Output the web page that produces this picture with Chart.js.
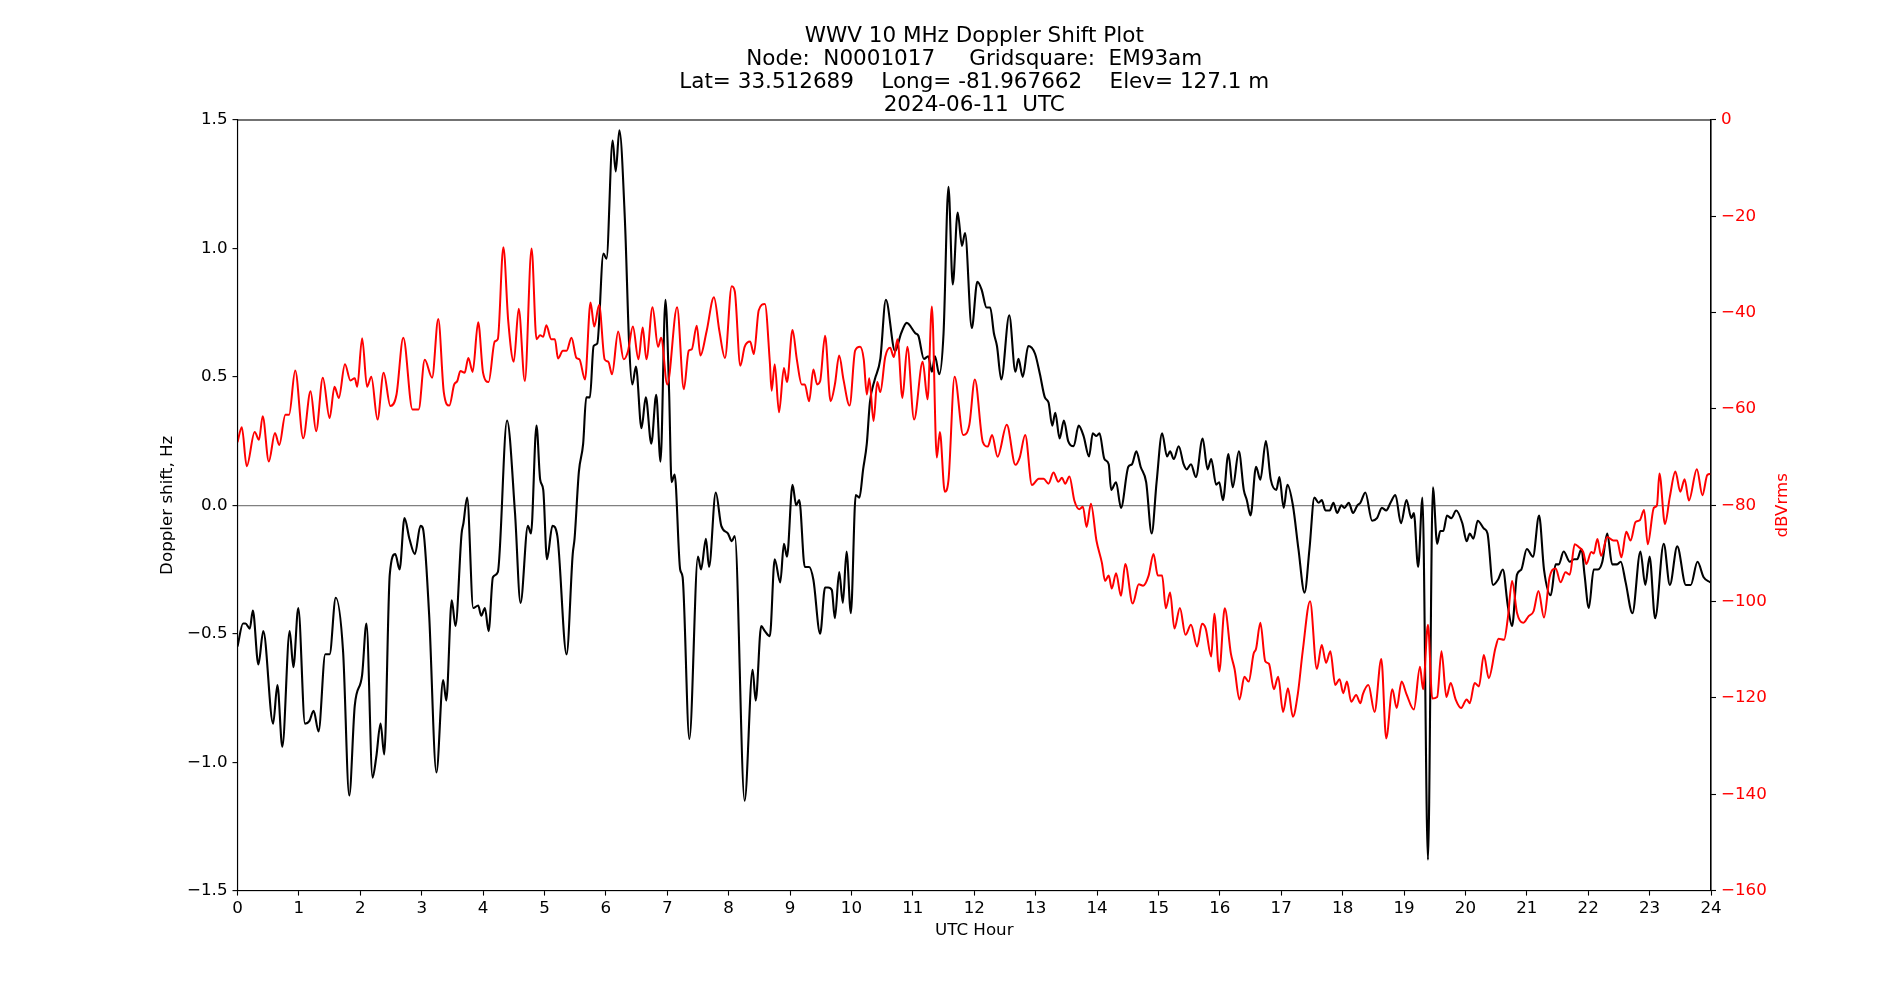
<!DOCTYPE html>
<html>
<head>
<meta charset="utf-8">
<script src="https://cdn.jsdelivr.net/npm/chart.js@4.4.1/dist/chart.umd.min.js"></script>
<style>
html,body{margin:0;padding:0;background:#ffffff;}
#wrap{width:1900px;height:1000px;}
</style>
</head>
<body>
<div id="wrap"><canvas id="c" width="1900" height="1000"></canvas></div>
<script>
const titleLines = [
  "WWV 10 MHz Doppler Shift Plot",
  "Node:  N0001017     Gridsquare:  EM93am",
  "Lat= 33.512689    Long= -81.967662    Elev= 127.1 m",
  "2024-06-11  UTC"
];
const xAxisLabel = "UTC Hour";
const dopplerAxisLabel = "Doppler shift, Hz";
const powerAxisLabel = "dBVrms";

const hourTicks = [0,1,2,3,4,5,6,7,8,9,10,11,12,13,14,15,16,17,18,19,20,21,22,23,24];
const dopplerTicks = [-1.5,-1.0,-0.5,0.0,0.5,1.0,1.5];
const powerTicks = [0,-20,-40,-60,-80,-100,-120,-140,-160];

// Doppler shift (Hz) vs UTC hour, black trace
const dopplerHours = [
  0.00,0.09,0.13,0.20,0.25,0.34,0.42,0.58,0.65,0.73,
  0.85,0.91,0.99,1.10,1.17,1.24,1.32,1.43,1.50,1.60,
  1.72,1.82,1.91,2.03,2.10,2.20,2.26,2.33,2.39,2.48,
  2.57,2.64,2.72,2.80,2.89,2.98,3.02,3.12,3.24,3.35,
  3.40,3.49,3.55,3.65,3.68,3.74,3.84,3.92,3.97,4.03,
  4.09,4.16,4.24,4.39,4.52,4.61,4.73,4.78,4.87,4.93,
  4.98,5.04,5.13,5.21,5.36,5.46,5.49,5.56,5.63,5.68,
  5.74,5.80,5.86,5.96,6.01,6.11,6.16,6.22,6.31,6.38,
  6.43,6.49,6.58,6.65,6.74,6.82,6.89,6.97,7.03,7.07,
  7.12,7.21,7.25,7.36,7.50,7.55,7.63,7.68,7.79,7.88,
  7.99,8.05,8.10,8.26,8.39,8.44,8.53,8.59,8.67,8.75,
  8.84,8.90,8.95,9.04,9.10,9.15,9.24,9.31,9.38,9.49,
  9.57,9.62,9.68,9.73,9.80,9.86,9.92,9.99,10.07,10.13,
  10.19,10.25,10.30,10.38,10.47,10.56,10.71,10.81,10.90,11.04,
  11.09,11.18,11.25,11.31,11.36,11.43,11.50,11.58,11.65,11.73,
  11.80,11.85,11.96,12.05,12.12,12.20,12.26,12.32,12.37,12.44,
  12.57,12.67,12.72,12.79,12.88,12.99,13.07,13.15,13.21,13.27,
  13.32,13.39,13.46,13.53,13.62,13.70,13.78,13.87,13.93,13.99,
  14.04,14.12,14.19,14.23,14.31,14.39,14.51,14.57,14.64,14.71,
  14.80,14.89,14.97,15.06,15.14,15.19,15.25,15.33,15.41,15.46,
  15.53,15.61,15.72,15.80,15.86,15.94,15.99,16.05,16.14,16.21,
  16.31,16.39,16.44,16.50,16.59,16.66,16.75,16.83,16.92,16.97,
  17.04,17.10,17.19,17.28,17.38,17.46,17.54,17.61,17.66,17.72,
  17.79,17.85,17.91,17.98,18.03,18.10,18.17,18.24,18.29,18.37,
  18.48,18.56,18.64,18.71,18.78,18.86,18.95,19.04,19.12,19.16,
  19.23,19.30,19.39,19.47,19.54,19.59,19.64,19.70,19.77,19.85,
  19.95,20.02,20.07,20.13,20.20,20.30,20.36,20.45,20.53,20.61,
  20.69,20.76,20.84,20.91,21.00,21.10,21.20,21.28,21.39,21.47,
  21.52,21.60,21.70,21.77,21.82,21.89,21.94,22.01,22.09,22.16,
  22.23,22.31,22.39,22.47,22.53,22.61,22.72,22.85,22.93,23.00,
  23.09,23.23,23.33,23.45,23.59,23.67,23.78,23.88,23.99
];
const dopplerHz = [
  -0.55,-0.46,-0.46,-0.48,-0.41,-0.62,-0.49,-0.85,-0.70,-0.94,
  -0.49,-0.63,-0.40,-0.85,-0.84,-0.80,-0.88,-0.58,-0.58,-0.36,
  -0.57,-1.13,-0.78,-0.66,-0.46,-1.06,-0.98,-0.85,-0.97,-0.27,
  -0.19,-0.25,-0.05,-0.13,-0.19,-0.08,-0.09,-0.42,-1.04,-0.68,
  -0.76,-0.37,-0.47,-0.11,-0.07,0.03,-0.40,-0.39,-0.43,-0.40,
  -0.49,-0.28,-0.26,0.33,-0.03,-0.38,-0.08,-0.11,0.31,0.10,
  0.06,-0.21,-0.08,-0.12,-0.58,-0.19,-0.13,0.13,0.24,0.42,
  0.42,0.62,0.63,0.98,0.96,1.42,1.30,1.46,1.11,0.62,
  0.47,0.54,0.30,0.42,0.24,0.43,0.17,0.80,0.44,0.09,
  0.12,-0.25,-0.28,-0.91,-0.20,-0.25,-0.13,-0.24,0.05,-0.08,
  -0.11,-0.14,-0.12,-1.15,-0.64,-0.76,-0.47,-0.49,-0.51,-0.21,
  -0.30,-0.15,-0.20,0.08,0.00,0.02,-0.24,-0.24,-0.29,-0.50,
  -0.32,-0.32,-0.33,-0.44,-0.26,-0.38,-0.18,-0.42,0.04,0.03,
  0.14,0.24,0.40,0.49,0.57,0.80,0.60,0.67,0.71,0.67,
  0.66,0.57,0.58,0.52,0.58,0.51,0.67,1.24,0.86,1.14,
  1.01,1.06,0.69,0.87,0.84,0.77,0.77,0.67,0.62,0.49,
  0.74,0.52,0.57,0.50,0.62,0.59,0.51,0.42,0.40,0.31,
  0.36,0.26,0.33,0.25,0.23,0.31,0.27,0.19,0.28,0.27,
  0.28,0.18,0.16,0.06,0.09,-0.01,0.15,0.16,0.21,0.15,
  0.09,-0.11,0.09,0.28,0.19,0.21,0.18,0.23,0.16,0.14,
  0.16,0.11,0.26,0.14,0.18,0.08,0.09,0.02,0.20,0.07,
  0.21,0.06,0.02,-0.04,0.15,0.10,0.25,0.10,0.06,0.11,
  -0.01,0.08,0.00,-0.17,-0.34,-0.17,0.03,0.01,0.02,-0.02,
  -0.02,0.01,-0.03,0.00,-0.01,0.01,-0.03,0.00,0.01,0.05,
  -0.06,-0.05,-0.01,-0.02,0.01,0.04,-0.07,0.02,-0.05,-0.03,
  -0.24,0.03,-1.38,0.07,-0.15,-0.10,-0.10,-0.04,-0.05,-0.02,
  -0.07,-0.14,-0.11,-0.13,-0.06,-0.09,-0.11,-0.31,-0.29,-0.25,
  -0.39,-0.47,-0.27,-0.25,-0.17,-0.20,-0.04,-0.25,-0.35,-0.23,
  -0.23,-0.18,-0.22,-0.21,-0.21,-0.17,-0.27,-0.40,-0.25,-0.25,
  -0.22,-0.11,-0.23,-0.23,-0.22,-0.30,-0.42,-0.18,-0.31,-0.20,
  -0.44,-0.15,-0.31,-0.16,-0.31,-0.31,-0.22,-0.28,-0.30
];

// Received level (dBVrms) vs UTC hour, red trace
const powerHours = [
  0.00,0.07,0.15,0.28,0.35,0.41,0.51,0.61,0.68,0.78,
  0.84,0.94,1.07,1.19,1.28,1.39,1.50,1.58,1.65,1.75,
  1.84,1.91,1.95,2.03,2.11,2.18,2.28,2.38,2.49,2.59,
  2.70,2.85,2.95,3.05,3.17,3.27,3.36,3.45,3.53,3.58,
  3.63,3.70,3.76,3.83,3.92,4.00,4.09,4.19,4.24,4.33,
  4.41,4.50,4.58,4.68,4.79,4.87,4.93,4.98,5.03,5.11,
  5.17,5.22,5.30,5.36,5.44,5.52,5.57,5.66,5.75,5.81,
  5.89,5.98,6.04,6.10,6.20,6.29,6.36,6.44,6.53,6.60,
  6.66,6.76,6.85,6.90,7.00,7.16,7.27,7.35,7.40,7.48,
  7.54,7.64,7.76,7.85,7.94,8.05,8.10,8.19,8.26,8.35,
  8.41,8.49,8.59,8.67,8.70,8.75,8.82,8.90,8.95,9.04,
  9.11,9.19,9.24,9.31,9.38,9.44,9.49,9.57,9.66,9.73,
  9.80,9.87,9.97,10.06,10.14,10.20,10.25,10.29,10.36,10.42,
  10.47,10.55,10.63,10.69,10.75,10.83,10.91,11.02,11.16,11.24,
  11.31,11.39,11.44,11.52,11.58,11.68,11.82,11.92,12.01,12.14,
  12.22,12.29,12.38,12.53,12.67,12.74,12.83,12.94,13.05,13.13,
  13.21,13.29,13.37,13.43,13.48,13.55,13.63,13.71,13.77,13.83,
  13.90,13.99,14.08,14.13,14.19,14.24,14.31,14.39,14.46,14.58,
  14.68,14.75,14.84,14.92,14.99,15.06,15.12,15.19,15.26,15.35,
  15.44,15.53,15.63,15.71,15.77,15.86,15.91,15.99,16.08,16.18,
  16.24,16.32,16.40,16.47,16.55,16.59,16.66,16.74,16.80,16.88,
  16.95,17.03,17.11,17.19,17.27,17.35,17.47,17.58,17.66,17.73,
  17.80,17.88,17.95,18.01,18.07,18.14,18.22,18.29,18.33,18.42,
  18.52,18.63,18.71,18.81,18.88,18.96,19.04,19.16,19.26,19.31,
  19.39,19.46,19.54,19.61,19.69,19.76,19.84,19.93,20.02,20.07,
  20.15,20.22,20.30,20.38,20.49,20.54,20.63,20.69,20.76,20.84,
  20.94,21.03,21.11,21.19,21.28,21.37,21.47,21.55,21.63,21.70,
  21.78,21.85,21.92,21.97,22.05,22.09,22.15,22.21,22.31,22.41,
  22.47,22.54,22.62,22.69,22.77,22.84,22.91,22.97,23.07,23.12,
  23.16,23.25,23.33,23.42,23.50,23.57,23.64,23.77,23.86,23.94,
  23.99
];
const powerDb = [
  -66.9,-63.8,-71.9,-64.8,-66.4,-61.5,-70.9,-65.0,-67.5,-61.2,
  -61.2,-52.0,-66.1,-56.3,-64.6,-53.5,-61.9,-55.4,-57.7,-50.7,
  -54.1,-53.6,-55.4,-45.3,-55.4,-53.3,-62.2,-52.5,-59.4,-57.0,
  -45.2,-60.1,-60.1,-49.8,-53.5,-41.3,-56.5,-59.3,-54.9,-54.2,
  -52.1,-52.5,-49.4,-52.3,-42.0,-52.5,-54.4,-46.0,-45.5,-26.4,
  -41.8,-50.2,-39.2,-54.2,-26.7,-45.5,-44.7,-45.0,-42.6,-45.5,
  -45.5,-49.5,-47.9,-47.9,-45.2,-49.4,-49.7,-53.9,-37.9,-42.9,
  -38.4,-49.7,-50.2,-52.8,-43.9,-49.7,-48.0,-42.9,-49.7,-43.1,
  -49.7,-38.9,-47.1,-45.2,-54.9,-38.9,-55.9,-47.9,-47.6,-42.7,
  -48.9,-43.9,-36.8,-43.9,-49.4,-34.5,-35.6,-51.0,-47.1,-46.0,
  -48.6,-39.5,-38.2,-50.2,-56.2,-50.7,-60.7,-51.5,-54.4,-43.6,
  -49.7,-54.9,-54.9,-58.4,-51.8,-54.9,-54.2,-44.8,-58.4,-54.9,
  -48.9,-53.9,-59.3,-47.9,-47.1,-49.7,-57.0,-53.6,-62.5,-54.4,
  -56.5,-49.2,-47.3,-49.2,-45.5,-57.7,-47.1,-62.2,-50.2,-58.0,
  -38.7,-70.1,-64.8,-77.2,-74.8,-53.3,-65.4,-63.3,-53.9,-66.9,
  -67.8,-65.4,-69.9,-63.3,-71.6,-70.1,-65.4,-75.8,-74.5,-74.5,
  -75.5,-73.2,-75.1,-74.3,-75.5,-74.0,-79.0,-80.8,-80.3,-84.5,
  -79.7,-87.3,-92.0,-95.7,-94.6,-97.3,-94.1,-98.8,-92.2,-100.4,
  -96.4,-96.7,-94.6,-90.1,-94.6,-94.6,-101.4,-98.1,-105.6,-101.3,
  -106.9,-104.8,-109.3,-104.6,-105.6,-111.4,-102.5,-114.5,-101.4,-110.8,
  -114.0,-120.3,-115.6,-116.6,-110.8,-109.8,-104.4,-112.4,-112.9,-118.2,
  -115.6,-122.9,-118.0,-123.9,-119.2,-110.3,-99.9,-114.0,-109.0,-112.7,
  -110.3,-117.3,-116.1,-119.0,-116.6,-120.8,-119.4,-121.1,-119.2,-117.3,
  -122.9,-111.9,-128.4,-118.2,-122.1,-116.6,-119.2,-122.4,-113.5,-118.2,
  -104.8,-120.1,-119.8,-110.3,-119.8,-116.9,-120.3,-122.1,-120.3,-121.1,
  -116.9,-117.6,-111.1,-115.9,-109.6,-107.7,-107.9,-103.5,-95.7,-102.3,
  -104.4,-103.0,-102.0,-97.8,-103.3,-95.0,-93.1,-96.0,-93.9,-94.4,
  -88.1,-88.7,-89.7,-92.2,-89.7,-90.0,-87.0,-90.5,-86.6,-87.3,
  -87.3,-90.8,-85.5,-87.3,-83.5,-83.1,-81.0,-88.1,-80.5,-80.0,
  -73.4,-83.9,-78.2,-73.0,-77.2,-74.6,-79.0,-72.5,-77.9,-73.7,
  -73.5
];

const FONT = "'DejaVu Sans', sans-serif";
const minus = s => s.replace('-', '\u2212');

const dopplerData = dopplerHours.map((h, i) => ({x: h, y: dopplerHz[i]}));
const powerData = powerHours.map((h, i) => ({x: h, y: powerDb[i]}));

const overlay = {
  id: 'overlay',
  afterDatasetsDraw(chart) {
    const {ctx, chartArea: a} = chart;
    ctx.save();
    ctx.strokeStyle = '#000';
    ctx.lineWidth = 1.1;
    ctx.strokeRect(a.left, a.top, a.right - a.left, a.bottom - a.top);
    ctx.restore();
  },
  afterDraw(chart) {
    const {ctx, chartArea: a} = chart;
    ctx.save();
    ctx.translate(a.right + 71.5, (a.top + a.bottom) / 2);
    ctx.rotate(-Math.PI / 2);
    ctx.fillStyle = '#ff0000';
    ctx.font = "16.7px " + FONT;
    ctx.textAlign = 'center';
    ctx.textBaseline = 'middle';
    ctx.fillText(powerAxisLabel, 0, 0);
    ctx.restore();
  }
};

new Chart(document.getElementById('c'), {
  type: 'line',
  data: {
    datasets: [
      {
        label: 'dBVrms',
        data: powerData,
        yAxisID: 'y2',
        borderColor: '#ff0000',
        borderWidth: 2,
        pointRadius: 0,
        cubicInterpolationMode: 'monotone',
        fill: false,
        order: 0
      },
      {
        label: 'Doppler',
        data: dopplerData,
        yAxisID: 'y',
        borderColor: '#000000',
        borderWidth: 2.1,
        pointRadius: 0,
        cubicInterpolationMode: 'monotone',
        fill: false,
        order: 1
      }
    ]
  },
  options: {
    responsive: false,
    animation: false,
    devicePixelRatio: 1,
    layout: {padding: 0},
    plugins: {
      legend: {display: false},
      tooltip: {enabled: false},
      title: {
        display: true,
        fullSize: false,
        text: titleLines,
        color: '#000',
        font: {family: FONT, size: 21.5, weight: 'normal', lineHeight: 1.0744},
        padding: {top: 24.75, bottom: 2.85}
      }
    },
    scales: {
      x: {
        type: 'linear',
        position: 'bottom',
        min: 0, max: 24,
        afterBuildTicks: s => { s.ticks = hourTicks.map(v => ({value: v})); },
        afterFit: s => { s.height = 109.4; },
        ticks: {
          autoSkip: false, maxRotation: 0, padding: 3,
          color: '#000', font: {family: FONT, size: 16.7},
          callback: v => String(v)
        },
        grid: {drawOnChartArea: false, drawTicks: true, tickLength: 5, tickColor: '#000', tickWidth: 1.1},
        border: {display: true, color: '#000', width: 1.1},
        title: {display: true, text: xAxisLabel, color: '#000', font: {family: FONT, size: 16.7}, padding: {top: 0, bottom: 59.4}}
      },
      y: {
        type: 'linear',
        position: 'left',
        min: -1.5, max: 1.5,
        afterBuildTicks: s => { s.ticks = dopplerTicks.map(v => ({value: v})); },
        afterFit: s => { s.width = 237.5; },
        ticks: {
          padding: 5, color: '#000', font: {family: FONT, size: 16.7},
          callback: v => minus(Number(v).toFixed(1))
        },
        grid: {
          drawOnChartArea: true, drawTicks: true, tickLength: 5,
          color: c => (c.tick && c.tick.value === 0) ? '#808080' : 'rgba(0,0,0,0)',
          lineWidth: 1.2, tickColor: '#000', tickWidth: 1.1
        },
        border: {display: true, color: '#000', width: 1.1},
        title: {display: true, text: dopplerAxisLabel, color: '#000', font: {family: FONT, size: 16.7}, padding: {top: 157.5, bottom: 0}}
      },
      y2: {
        type: 'linear',
        position: 'right',
        min: -160, max: 0,
        afterBuildTicks: s => { s.ticks = powerTicks.map(v => ({value: v})); },
        afterFit: s => { s.width = 189; },
        ticks: {
          padding: 5, color: '#ff0000', font: {family: FONT, size: 16.7},
          callback: v => minus(String(v))
        },
        grid: {drawOnChartArea: false, drawTicks: true, tickLength: 5, tickColor: '#000', tickWidth: 1.1},
        border: {display: true, color: '#000', width: 1.1},
        title: {display: false}
      }
    }
  },
  plugins: [overlay]
});
</script>
</body>
</html>
